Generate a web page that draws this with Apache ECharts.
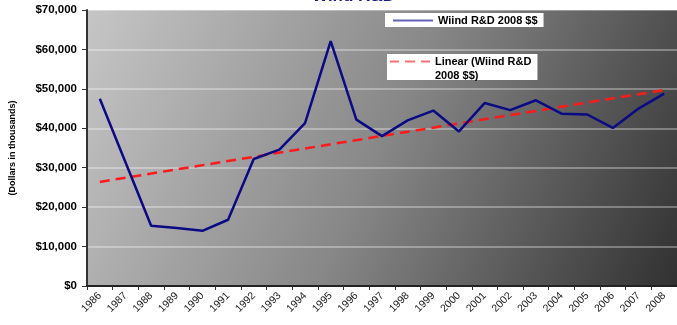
<!DOCTYPE html>
<html>
<head>
<meta charset="utf-8">
<script src="https://cdn.jsdelivr.net/npm/echarts@6/dist/echarts.min.js"></script>
<style>html,body{margin:0;padding:0;background:#fff;}#c{width:677px;height:325px;}</style>
</head>
<body>
<div id="c"></div>
<script>
const years = ['1986','1987','1988','1989','1990','1991','1992','1993','1994','1995','1996','1997','1998','1999','2000','2001','2002','2003','2004','2005','2006','2007','2008'];
const windRD = [47500, 31400, 15300, 14700, 14000, 16800, 32200, 34600, 41300, 62100, 42200, 38000, 42000, 44500, 39200, 46400, 44600, 47100, 43700, 43500, 40100, 45000, 48800];
const trendEnds = [26400, 49700];
const yTicks = { min: 0, max: 70000, interval: 10000 };
const seriesName = 'Wiind R&D 2008 $$';
const trendName = 'Linear (Wiind R&D 2008 $$)';
const trendLine1 = 'Linear (Wiind R&D';
const trendLine2 = '2008 $$)';
const titleText = 'Wind R&D';
const yAxisName = '(Dollars in thousands)';

const trendData = years.map((y, i) => i === 0 ? trendEnds[0] : (i === years.length - 1 ? trendEnds[1] : null));

const chart = echarts.init(document.getElementById('c'), null, { renderer: 'canvas' });
const fmt = v => '$' + v.toLocaleString('en-US');
chart.setOption({
  animation: false,
  backgroundColor: '#ffffff',
  textStyle: { fontFamily: 'Liberation Sans' },
  graphic: [
    {
      type: 'text', x: 312, y: -12, z: 100,
      style: { text: titleText, font: 'bold 17px Liberation Sans', fill: '#1a1a80', textVerticalAlign: 'top' }
    },
    {
      type: 'text', x: 435, y: 76, z: 100,
      style: { text: trendLine2, font: 'bold 11px Liberation Sans', fill: '#000', textVerticalAlign: 'middle' }
    }
  ],
  grid: {
    left: 85, right: 0, top: 10, bottom: 39, show: true, borderWidth: 0,
    backgroundColor: new echarts.graphic.LinearGradient(0, 0, 1, 1, [
      { offset: 0, color: '#c6c6c6' },
      { offset: 0.5, color: '#878787' },
      { offset: 1, color: '#313131' }
    ])
  },
  legend: [
    {
      data: [{ name: seriesName, icon: 'rect', itemStyle: { color: '#6464b8' } }],
      left: 385, top: 13, orient: 'vertical',
      backgroundColor: '#ffffff', padding: [2, 6, 1, 8], itemWidth: 40, itemHeight: 2, itemGap: 5,
      textStyle: { fontSize: 11, fontWeight: 'bold', color: '#000', fontFamily: 'Liberation Sans' },
      selectedMode: false
    },
    {
      data: [{ name: trendName, icon: 'path://M0,0h9v2h-9z M15,0h10v2h-10z M31,0h9v2h-9z', itemStyle: { color: '#ff7070' } }],
      left: 387, top: 54, orient: 'vertical',
      backgroundColor: '#ffffff', padding: [2, 6, 13, 3], itemWidth: 40, itemHeight: 2, itemGap: 5,
      formatter: () => trendLine1,
      textStyle: { fontSize: 11, fontWeight: 'bold', color: '#000', fontFamily: 'Liberation Sans' },
      selectedMode: false
    }
  ],
  xAxis: {
    type: 'category', data: years, boundaryGap: true,
    axisLine: { lineStyle: { color: '#222', width: 2 } },
    axisTick: { show: true, alignWithLabel: false, length: 4, lineStyle: { color: '#333' } },
    axisLabel: { rotate: 45, fontSize: 10.5, color: '#222', margin: 8, interval: 0, fontFamily: 'Liberation Sans' },
    splitLine: { show: false }
  },
  yAxis: {
    type: 'value', min: yTicks.min, max: yTicks.max, interval: yTicks.interval,
    name: yAxisName, nameLocation: 'middle', nameGap: 70, nameRotate: 90,
    nameTextStyle: { fontSize: 9, fontWeight: 'bold', color: '#000' },
    axisLine: { show: true, lineStyle: { color: '#333', width: 2 } },
    axisTick: { show: true, length: 5, lineStyle: { color: '#333' } },
    axisLabel: { formatter: fmt, fontSize: 11.5, fontWeight: 'bold', color: '#000', margin: 10, fontFamily: 'Liberation Sans' },
    splitLine: { show: true, lineStyle: { color: 'rgba(255,255,255,0.32)', width: 2 } }
  },
  series: [
    {
      name: seriesName, type: 'line', data: windRD, symbol: 'none', showSymbol: false,
      lineStyle: { color: '#0a0a85', width: 2.5 }, itemStyle: { color: '#0a0a85' }, z: 3
    },
    {
      name: trendName, type: 'line', data: trendData, connectNulls: true, symbol: 'none', showSymbol: false,
      lineStyle: { color: '#ff1a1a', width: 2.5, type: [10, 6] }, itemStyle: { color: '#ff1a1a' }, z: 2
    }
  ]
});
</script>
</body>
</html>
